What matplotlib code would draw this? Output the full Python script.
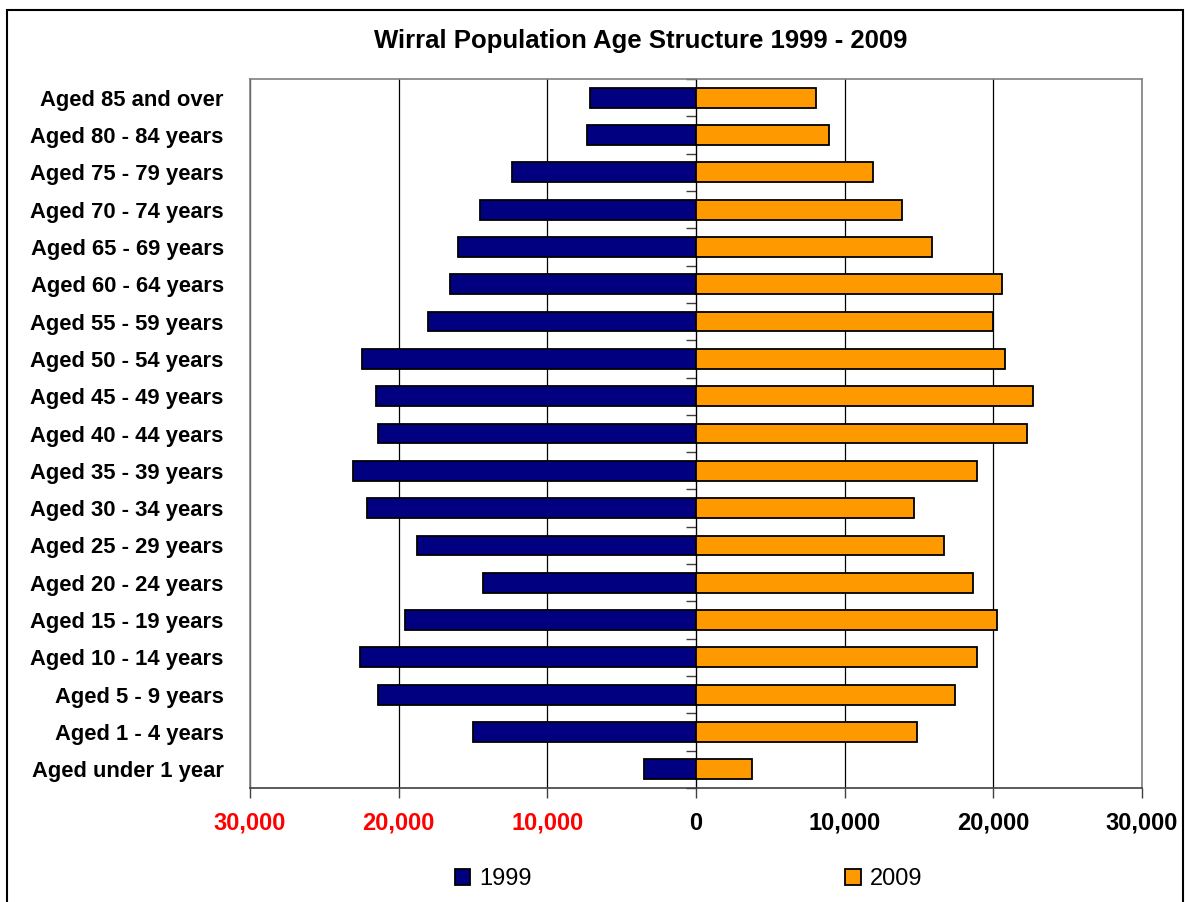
import matplotlib
matplotlib.use('Agg')
import matplotlib.pyplot as plt
from matplotlib.patches import Rectangle
from matplotlib.ticker import FuncFormatter
import numpy as np

plt.rcParams['font.family'] = ['Liberation Sans', 'DejaVu Sans']

# Age bands, youngest first (drawn bottom to top)
age_bands = [
    'Aged under 1 year', 'Aged 1 - 4 years', 'Aged 5 - 9 years',
    'Aged 10 - 14 years', 'Aged 15 - 19 years', 'Aged 20 - 24 years',
    'Aged 25 - 29 years', 'Aged 30 - 34 years', 'Aged 35 - 39 years',
    'Aged 40 - 44 years', 'Aged 45 - 49 years', 'Aged 50 - 54 years',
    'Aged 55 - 59 years', 'Aged 60 - 64 years', 'Aged 65 - 69 years',
    'Aged 70 - 74 years', 'Aged 75 - 79 years', 'Aged 80 - 84 years',
    'Aged 85 and over',
]
pop_1999 = [3500, 15000, 21400, 22600, 19600, 14300, 18800, 22100, 23100,
            21400, 21500, 22500, 18000, 16550, 16000, 14550, 12400, 7350, 7100]
pop_2009 = [3750, 14850, 17450, 18900, 20250, 18650, 16650, 14650, 18900,
            22250, 22700, 20800, 20000, 20600, 15850, 13850, 11900, 8950, 8050]
x_ticks = [-30000, -20000, -10000, 0, 10000, 20000, 30000]

# Colours
cor_1999 = '#000080'
cor_2009 = '#FF9900'
cor_borda = '#808080'

fig = plt.figure(figsize=(11.85, 9.02), dpi=100)
ax = fig.add_axes([0.2110, 0.1264, 0.7527, 0.7860])

y = np.arange(len(age_bands))
b1 = ax.barh(y, -np.array(pop_1999), height=0.53, color=cor_1999,
             edgecolor='black', linewidth=1.3, label='1999', zorder=3)
b2 = ax.barh(y, pop_2009, height=0.53, color=cor_2009,
             edgecolor='black', linewidth=1.3, label='2009', zorder=3)

ax.set_xlim(-30000, 30000)
ax.set_ylim(-0.5, len(age_bands) - 0.5)

# x axis: absolute values, left side in red
ax.set_xticks(x_ticks)
ax.xaxis.set_major_formatter(FuncFormatter(lambda v, p: f'{abs(int(v)):,}'))
ax.tick_params(axis='x', direction='out', length=7, width=1, color='#404040',
               labelsize=17, pad=10)
for lbl, v in zip(ax.get_xticklabels(), x_ticks):
    lbl.set_fontweight('bold')
    lbl.set_color('red' if v < 0 else 'black')

ax.grid(axis='x', color='black', linewidth=0.9)
ax.set_axisbelow(True)

# y axis: category names
ax.set_yticks(y)
ax.set_yticklabels(age_bands, fontsize=15.8, fontweight='bold')
ax.tick_params(axis='y', length=0, pad=19)

for s in ax.spines.values():
    s.set_color(cor_borda)
    s.set_linewidth(1.2)
ax.spines['bottom'].set_color('#404040')

# centre axis at zero with ticks between categories
sec = ax.secondary_yaxis(0.5)
sec.set_yticks(np.arange(-0.5, len(age_bands), 1.0))
sec.tick_params(axis='y', direction='in', length=7, width=1,
                color='#404040', labelleft=False, labelright=False)
sec.spines['left'].set_color(cor_borda)
sec.spines['left'].set_linewidth(1.3)

fig.suptitle('Wirral Population Age Structure 1999 - 2009', x=0.541, y=0.968,
             fontsize=18.5, fontweight='bold')

fig.legend([b1, b2], ['1999', '2009'], loc='center', bbox_to_anchor=(0.581, 0.0255),
           ncol=2, frameon=False, fontsize=17, handlelength=0.64,
           handleheight=0.64, handletextpad=0.38, columnspacing=13.3)

# outer chart frame
fig.patches.append(Rectangle((0.006, -0.05), 0.9925, 1.039, transform=fig.transFigure,
                             fill=False, edgecolor='black', linewidth=1.5))

fig.savefig('out.png', dpi=100)
